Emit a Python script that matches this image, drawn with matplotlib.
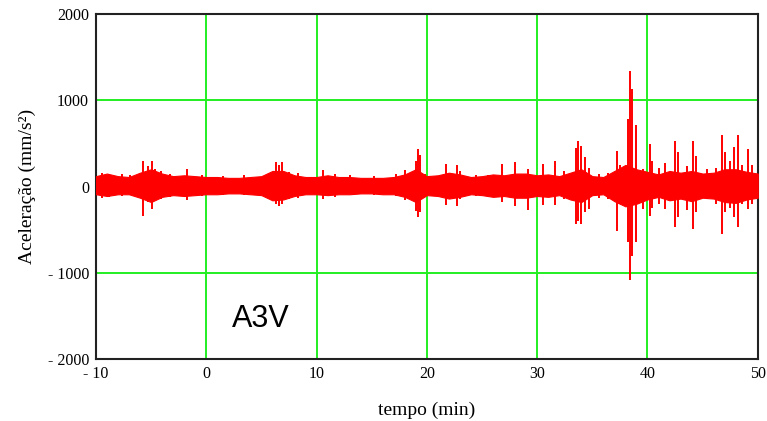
import numpy as np
import matplotlib
matplotlib.use("Agg")
import matplotlib.pyplot as plt

# background band of the signal, read at 1 minute steps
band_t = list(range(-10, 51))
band_hi = [120, 150, 120, 110, 160, 200, 150, 120, 130, 120,
           110, 110, 100, 100, 110, 120, 180, 180, 130, 110,
           110, 130, 110, 110, 100, 100, 100, 110, 140, 200,
           120, 130, 160, 140, 110, 120, 140, 130, 150, 150,
           130, 140, 120, 160, 200, 120, 110, 180, 250, 200,
           170, 140, 180, 160, 180, 150, 160, 200, 200, 170, 150]
band_lo = [-90, -110, -90, -90, -130, -180, -120, -100, -110, -100,
           -90, -90, -80, -80, -90, -100, -160, -150, -110, -90,
           -90, -100, -90, -90, -80, -80, -90, -90, -120, -180,
           -100, -110, -140, -120, -90, -100, -120, -110, -130, -130,
           -110, -120, -100, -150, -180, -100, -90, -170, -230, -200,
           -150, -120, -160, -140, -170, -130, -140, -180, -190, -150, -130]

# individual spikes: time (min), peak, trough (mm/s2)
spike_t = [-9.4, -8.8, -7.6, -6.9, -5.7, -5.3, -4.9, -4.6, -4.1, -3.3, -1.7, -0.4,
           1.5, 3.4, 5.6, 6.3, 6.6, 6.9, 7.5, 8.3,
           10.6, 11.7, 13.0, 15.2, 17.2, 18.0, 19.0, 19.2, 19.4, 19.8, 21.7, 22.7,
           23.0, 24.5, 25.5, 26.8, 28.0, 29.2, 30.55, 31.6, 32.4, 33.5, 33.7,
           34.0, 34.3, 34.7, 35.6, 36.4, 37.2, 37.5, 38.2, 38.4, 38.6, 39.0,
           39.6, 40.2, 40.4, 41.0, 41.6, 42.5, 42.8, 43.6, 44.15, 44.4, 45.4,
           46.2, 46.8, 47.0, 47.5, 47.8, 48.2, 48.6, 49.1, 49.5]
spike_hi = [160, 150, 140, 130, 300, 243, 300, 200, 185, 150, 200, 130,
            120, 130, 150, 280, 250, 282, 170, 160,
            193, 150, 130, 120, 140, 193, 300, 437, 360, 150, 265, 245,
            180, 130, 130, 265, 285, 205, 262, 300, 180, 450, 533,
            475, 340, 220, 150, 160, 417, 250, 784, 1344, 1132, 707,
            200, 494, 300, 220, 270, 533, 400, 240, 533, 350, 200,
            220, 591, 400, 300, 456, 591, 250, 440, 250]
spike_lo = [-130, -120, -110, -100, -336, -185, -255, -150, -150, -120, -160, -110,
            -100, -100, -120, -200, -230, -200, -140, -130,
            -140, -120, -90, -100, -110, -160, -280, -355, -300, -120, -220, -230,
            -150, -110, -110, -182, -222, -278, -220, -220, -150, -433, -400,
            -433, -300, -260, -130, -140, -510, -200, -645, -1089, -800, -645,
            -260, -336, -250, -200, -260, -471, -350, -270, -490, -300, -150,
            -200, -548, -300, -250, -355, -471, -200, -260, -200]

x_ticks = [-10, 0, 10, 20, 30, 40, 50]
y_ticks = [-2000, -1000, 0, 1000, 2000]

serif = "Liberation Serif"
red = "#ff0000"
green = "#22ee22"

fig = plt.figure(figsize=(7.67, 4.21), dpi=100)
ax = fig.add_axes([0.125, 0.147, 0.863, 0.820])

ax.fill_between(band_t, band_lo, band_hi, color=red, lw=0.8, edgecolor=red, zorder=3)
ax.vlines(spike_t, spike_lo, spike_hi, color=red, lw=1.4, zorder=3)

ax.set_xlim(-10, 50)
ax.set_ylim(-2000, 2000)
ax.set_xticks(x_ticks)
ax.set_yticks(y_ticks)
ax.set_xticklabels([str(v).replace("-", "- ") for v in x_ticks], family=serif, fontsize=11.5)
ax.set_yticklabels([str(v).replace("-", "- ") for v in y_ticks], family=serif, fontsize=11.5)
ax.tick_params(length=0, pad=5)
ax.grid(True, color=green, lw=1.4, zorder=1)
ax.set_axisbelow(True)
for s in ax.spines.values():
    s.set_linewidth(1.5)
    s.set_color("#222222")

ax.set_xlabel("tempo (min)", family=serif, fontsize=14, labelpad=14)
ax.set_ylabel("Aceleração (mm/s²)", family=serif, fontsize=14, labelpad=8)

ax.text(2.3, -1540, "A3V", family="Liberation Sans", fontsize=22, va="center", ha="left")

fig.savefig("out.png", dpi=100)
